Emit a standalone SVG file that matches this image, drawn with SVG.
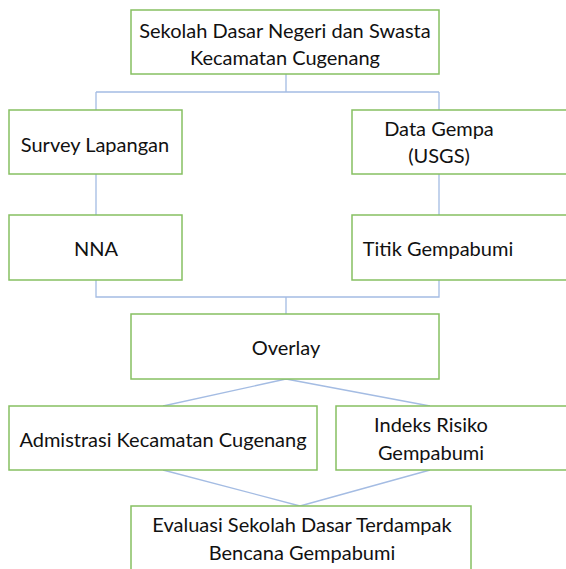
<svg xmlns="http://www.w3.org/2000/svg" width="566" height="569" viewBox="0 0 566 569">
<style>
.box{fill:#fff;stroke:#86c062;stroke-width:1.5}
.t{font-family:Lato,"Liberation Sans",Arial,sans-serif;font-size:20px;fill:#111;text-anchor:middle}
.c{fill:none;stroke:#a4bce3;stroke-width:1.3}
</style>
<rect width="566" height="569" fill="#fff"/>
<g id="connectors">
<path class="c" d="M286 74V92M96 92H439M96 92V110M439 92V110"/>
<path class="c" d="M96 174V215M439 174V215"/>
<path class="c" d="M96 280V297H439V280M286 297V314"/>
<path class="c" d="M286 379L163 406M286 379L430 406"/>
<path class="c" d="M163 470L300 506M430 470L300 506"/>
</g>
<g id="n1"><rect class="box" x="131" y="10" width="308" height="64"/><text class="t" x="285" y="38">Sekolah Dasar Negeri dan Swasta</text><text class="t" x="285" y="65">Kecamatan Cugenang</text></g>
<g id="n2"><rect class="box" x="9" y="110" width="173" height="64"/><text class="t" x="95" y="152">Survey Lapangan</text></g>
<g id="n3"><rect class="box" x="352" y="110" width="220" height="64"/><text class="t" x="439" y="136">Data Gempa</text><text class="t" x="439" y="163">(USGS)</text></g>
<g id="n4"><rect class="box" x="9" y="215" width="173" height="65"/><text class="t" x="96" y="256">NNA</text></g>
<g id="n5"><rect class="box" x="352" y="215" width="220" height="65"/><text class="t" x="438" y="256">Titik Gempabumi</text></g>
<g id="n6"><rect class="box" x="131" y="314" width="308" height="65"/><text class="t" x="286" y="355">Overlay</text></g>
<g id="n7"><rect class="box" x="9" y="406" width="308" height="64"/><text class="t" x="163" y="447">Admistrasi Kecamatan Cugenang</text></g>
<g id="n8"><rect class="box" x="336" y="406" width="236" height="64"/><text class="t" x="431" y="432">Indeks Risiko</text><text class="t" x="431" y="460">Gempabumi</text></g>
<g id="n9"><rect class="box" x="131" y="506" width="340" height="70"/><text class="t" x="302" y="532">Evaluasi Sekolah Dasar Terdampak</text><text class="t" x="302" y="560">Bencana Gempabumi</text></g>
</svg>
